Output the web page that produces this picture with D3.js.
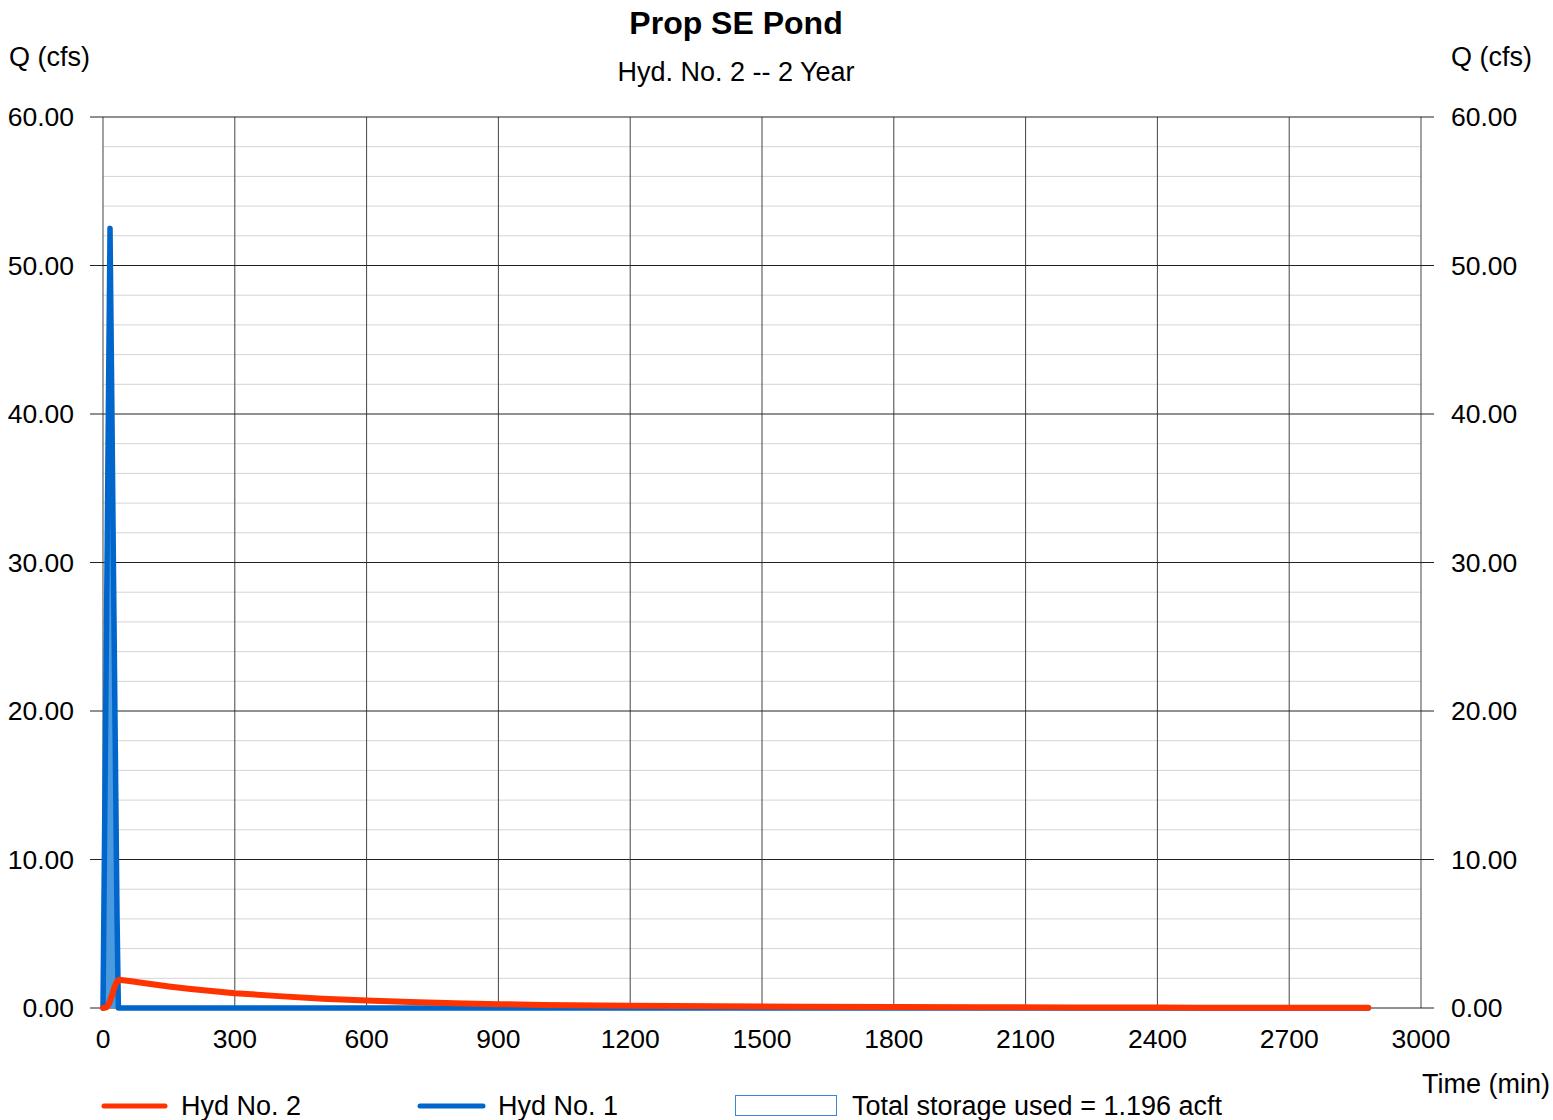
<!DOCTYPE html>
<html><head><meta charset="utf-8">
<script src="https://cdn.jsdelivr.net/npm/d3@7"></script>
<style>body{margin:0;background:#fff;} text{font-family:"Liberation Sans",Arial,sans-serif;fill:#000;}</style>
</head><body>
<svg id="c" width="1553" height="1120"></svg>
<script>
// Data
const title = "Prop SE Pond";
const subtitle = "Hyd. No. 2 -- 2 Year";
const xTicks = [0,300,600,900,1200,1500,1800,2100,2400,2700,3000];
const yTicks = [0,10,20,30,40,50,60];
const yMinor = [2,4,6,8,12,14,16,18,22,24,26,28,32,34,36,38,42,44,46,48,52,54,56,58];
// Hyd No. 1 (inflow)
const inflowTime = [0,4,8,12,16,20,24,28,32,35,2880];
const inflowQ    = [0,13.0,26.0,39.5,52.5,41.0,29.0,17.5,6.0,0,0];
// Hyd No. 2 (outflow)
const outflowTime = [0,8,14,20,26,32,36,60,100,150,200,300,400,500,600,700,800,900,1000,1200,1400,1600,1800,2000,2200,2400,2500,2880];
const outflowQ    = [0,0.05,0.3,0.8,1.4,1.8,1.9,1.82,1.65,1.45,1.28,1.0,0.8,0.62,0.5,0.4,0.32,0.26,0.21,0.15,0.11,0.08,0.06,0.05,0.04,0.03,0.02,0.02];
const legendItems = ["Hyd No. 2","Hyd No. 1","Total storage used = 1.196 acft"];

const svg = d3.select("#c");
const x = d3.scaleLinear().domain([0,3000]).range([103,1421]);
const y = d3.scaleLinear().domain([0,60]).range([1008,117]);

// minor grid
svg.append("g").selectAll("line").data(yMinor).join("line")
  .attr("x1",103).attr("x2",1421).attr("y1",d=>y(d)).attr("y2",d=>y(d))
  .attr("stroke","#d4d4d4").attr("stroke-width",1);
// vertical grid
svg.append("g").selectAll("line").data(xTicks).join("line")
  .attr("x1",d=>x(d)).attr("x2",d=>x(d)).attr("y1",117).attr("y2",1008)
  .attr("stroke","#444").attr("stroke-width",1);
// major horizontal grid with outer ticks
svg.append("g").selectAll("line").data(yTicks).join("line")
  .attr("x1",90).attr("x2",1434).attr("y1",d=>y(d)).attr("y2",d=>y(d))
  .attr("stroke","#222").attr("stroke-width",1);

// axes labels
const fs = 26.5;
svg.append("g").selectAll("text").data(yTicks).join("text")
  .attr("x",74).attr("y",d=>y(d)+9).attr("text-anchor","end").attr("font-size",fs)
  .text(d=>d3.format(".2f")(d));
svg.append("g").selectAll("text").data(yTicks).join("text")
  .attr("x",1451).attr("y",d=>y(d)+9).attr("text-anchor","start").attr("font-size",fs)
  .text(d=>d3.format(".2f")(d));
svg.append("g").selectAll("text").data(xTicks).join("text")
  .attr("x",d=>x(d)).attr("y",1048).attr("text-anchor","middle").attr("font-size",fs)
  .text(d=>d);

// storage fill between inflow and outflow
const inflowPts = inflowTime.map((t,i)=>[t,inflowQ[i]]).filter(p=>p[0]<=40);
const area = d3.area().x(d=>x(d[0])).y0(y(0)).y1(d=>y(d[1]));
svg.append("path").datum(inflowPts).attr("d",area).attr("fill","#4a9ae0");

// lines
const line = d3.line().x(d=>x(d[0])).y(d=>y(d[1]));
svg.append("path").datum(inflowTime.map((t,i)=>[t,inflowQ[i]]))
  .attr("d",line).attr("fill","none").attr("stroke","#0066cc").attr("stroke-width",5.5)
  .attr("stroke-linejoin","round").attr("stroke-linecap","round");
svg.append("path").datum(outflowTime.map((t,i)=>[t,outflowQ[i]]))
  .attr("d",line).attr("fill","none").attr("stroke","#ff3300").attr("stroke-width",6)
  .attr("stroke-linejoin","round").attr("stroke-linecap","round");

// titles
svg.append("text").attr("x",736).attr("y",34).attr("text-anchor","middle")
  .attr("font-size",32).attr("font-weight","bold").text(title);
svg.append("text").attr("x",736).attr("y",81).attr("text-anchor","middle")
  .attr("font-size",27).text(subtitle);
svg.append("text").attr("x",9).attr("y",66).attr("font-size",27).text("Q (cfs)");
svg.append("text").attr("x",1451).attr("y",66).attr("font-size",27).text("Q (cfs)");
svg.append("text").attr("x",1550).attr("y",1093).attr("text-anchor","end").attr("font-size",27).text("Time (min)");

// legend
svg.append("line").attr("x1",104).attr("x2",165).attr("y1",1106).attr("y2",1106)
  .attr("stroke","#ff3300").attr("stroke-width",5).attr("stroke-linecap","round");
svg.append("text").attr("x",181).attr("y",1115).attr("font-size",27).text(legendItems[0]);
svg.append("line").attr("x1",420).attr("x2",483).attr("y1",1106).attr("y2",1106)
  .attr("stroke","#0066cc").attr("stroke-width",5).attr("stroke-linecap","round");
svg.append("text").attr("x",498).attr("y",1115).attr("font-size",27).text(legendItems[1]);
svg.append("rect").attr("x",735.5).attr("y",1095.5).attr("width",101).attr("height",20)
  .attr("fill","#fff").attr("stroke","#3a85d6").attr("stroke-width",1);
svg.append("text").attr("x",852).attr("y",1115).attr("font-size",27).text(legendItems[2]);
</script>
</body></html>
